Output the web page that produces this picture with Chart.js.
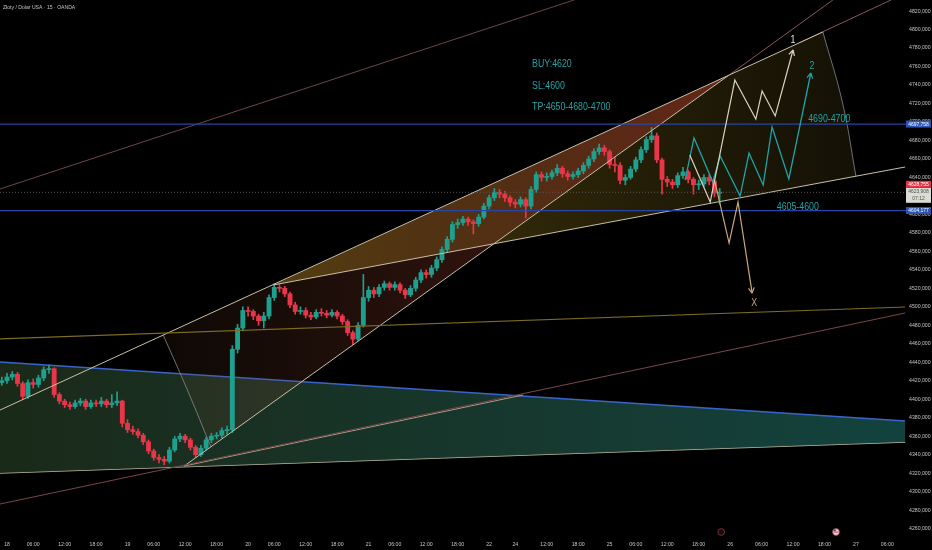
<!DOCTYPE html>
<html>
<head>
<meta charset="utf-8">
<script src="https://cdn.jsdelivr.net/npm/chart.js@4.4.1/dist/chart.umd.min.js"></script>
<style>
  html, body { margin: 0; padding: 0; background: #000; }
  #wrap { width: 932px; height: 550px; position: relative; }
</style>
</head>
<body>
<div id="wrap"><canvas id="chart"></canvas></div>
<script>
const FONT = '"Liberation Sans", Arial, sans-serif';

// hourly candles, x = trading hour counted from the "18" label (first candle at -1)
const firstHour = -1;
const firstOpen = 4418;
const closes = [
  4420,4424,4427,4417,4403,4418,4416,4423,4432,4433,
  4405,4398,4394,4392,4396,4398,4392,4396,4395,4398,
  4394,4396,4398,4374,4367,4365,4361,4354,4344,4337,
  4335,4333,4345,4357,4360,4356,4348,4340,4347,4356,
  4360,4361,4366,4367,4454,4477,4496,4495,4490,4485,
  4490,4510,4521,4520,4514,4502,4495,4496,4491,4489,
  4494,4493,4491,4494,4490,4484,4472,4465,4480,4510,
  4518,4514,4521,4525,4521,4524,4518,4513,4520,4529,
  4537,4535,4542,4551,4562,4573,4589,4591,4595,4592,
  4590,4597,4609,4618,4624,4622,4618,4613,4611,4616,
  4609,4627,4643,4640,4641,4645,4650,4644,4641,4643,
  4647,4653,4660,4668,4672,4668,4654,4653,4637,4640,
  4649,4659,4670,4681,4685,4659,4638,4635,4632,4642,
  4646,4638,4632,4633,4640,4636,4623,4624
];
const highs = [
  4424,4428,4430,4429,4419,4421,4422,4426,4435,4437,
  4434,4407,4400,4397,4399,4401,4400,4399,4399,4402,
  4400,4405,4408,4399,4378,4371,4368,4363,4356,4346,
  4340,4338,4348,4360,4363,4362,4358,4350,4350,4359,
  4363,4364,4369,4371,4458,4481,4500,4500,4497,4492,
  4494,4513,4525,4524,4522,4516,4505,4500,4499,4494,
  4497,4498,4496,4497,4496,4492,4486,4474,4483,4535,
  4522,4521,4524,4528,4527,4527,4526,4520,4523,4532,
  4540,4540,4545,4554,4565,4576,4592,4595,4598,4597,
  4594,4600,4612,4621,4628,4627,4625,4620,4616,4619,
  4618,4630,4646,4646,4645,4648,4654,4652,4647,4646,
  4650,4656,4663,4671,4676,4675,4670,4662,4656,4643,
  4652,4662,4673,4684,4694,4688,4661,4641,4638,4645,
  4651,4648,4640,4637,4643,4643,4638,4628
];
const lows = [
  4415,4417,4421,4414,4400,4401,4412,4413,4420,4428,
  4402,4395,4391,4389,4390,4393,4389,4390,4392,4392,
  4391,4391,4393,4370,4364,4362,4358,4351,4341,4334,
  4331,4329,4331,4343,4354,4353,4345,4337,4338,4345,
  4353,4357,4358,4362,4364,4450,4474,4490,4486,4480,
  4477,4487,4507,4516,4511,4499,4492,4492,4488,4486,
  4487,4490,4488,4489,4487,4481,4469,4459,4463,4478,
  4506,4510,4511,4518,4518,4518,4515,4509,4511,4517,
  4526,4531,4532,4539,4548,4559,4570,4585,4588,4588,
  4579,4587,4595,4606,4615,4618,4614,4609,4607,4608,
  4596,4606,4624,4636,4636,4638,4642,4640,4637,4638,
  4640,4644,4650,4657,4665,4664,4650,4646,4633,4632,
  4638,4646,4656,4667,4678,4656,4622,4630,4628,4629,
  4639,4634,4622,4627,4630,4632,4619,4611
];

const timeTicks = [0,5,11,17,23,28,34,40,46,51,57,63,69,74,80,86,92,97,103,109,115,120,126,132,138,144,150,156,162,168];
const timeLabels = ['18','06:00','12:00','18:00','19','06:00','12:00','18:00','20','06:00','12:00','18:00',
  '21','06:00','12:00','18:00','22','24','12:00','18:00','25','06:00','12:00','18:00','26','06:00','12:00','18:00','27','06:00'];
const priceTicks = [4260,4280,4300,4320,4340,4360,4380,4400,4420,4440,4460,4480,4500,4520,4540,
  4560,4580,4600,4620,4640,4660,4680,4700,4720,4740,4760,4780,4800,4820];

const lastPrice = 4623.908;
const markPrice = 4628.755;
const upperLevel = 4697.758;
const lowerLevel = 4604.177;

// drawings, points as [hour, price]
const lineRoseTop = [[-1.34, 4627.5], [108.2, 4832]];
const lineRoseLow = [[-1.34, 4286.6], [171.4, 4493.3]];
const lineOlive = [[-1.34, 4465.2], [171.4, 4499.8]];
const triTop = [[-1.34, 4440.3], [171.4, 4376.4]];
const triBottom = [[-1.34, 4320.2], [171.4, 4353.7]];
const lineU = [[-1.34, 4388.3], [155.7, 4797.4]];
const lineSteep = [[33.8, 4327.7], [137.8, 4750.8]];
const lineSteepTop = [[137.8, 4750.8], [157.6, 4832]];
const lineM = [[50.8, 4523.6], [171.4, 4651.3]];
const lineRoseShort = [[151.1, 4785.5], [168.7, 4832]];
const lineLowBeige = [[33.8, 4327.7], [98.5, 4404.6]];
const arcRight = [[155.7, 4797.4], [159.5, 4719.5], [162.0, 4641.6]];
const arcLeft = [[29.8, 4469.5], [34.5, 4408.9], [38.9, 4348.5]];
const wedgeGold = [[50.8, 4523.6], [155.7, 4797.4], [159.5, 4719.5], [162.0, 4641.6], [50.8, 4523.6]];
const wedgeRed = [[29.8, 4469.5], [137.8, 4750.8], [38.9, 4348.5], [34.5, 4408.9], [29.8, 4469.5]];
const path1 = [[130.3, 4664.3], [134.2, 4613.4], [138.9, 4745.4], [142.9, 4703.2], [144.1, 4733.5], [146.6, 4706.5], [150.0, 4777.9]];
const path2 = [[129.4, 4637.2], [131.1, 4682.7], [134.7, 4635.1], [136.1, 4663.2], [139.9, 4619.9], [141.6, 4666.4],
  [144.3, 4631.8], [146.0, 4694.6], [149.2, 4638.3], [153.4, 4753.0]];
const pathX = [[135.1, 4635.1], [137.8, 4569.0], [139.5, 4613.4], [142.2, 4514.9]];

const notes = [
  { text: 'BUY:4620', x: 100.2, y: 4762.7, color: '#21a3a6', align: 'left' },
  { text: 'SL:4600', x: 100.2, y: 4738.9, color: '#21a3a6', align: 'left' },
  { text: 'TP:4650-4680-4700', x: 100.2, y: 4716.2, color: '#21a3a6', align: 'left' },
  { text: '4690-4700', x: 152.9, y: 4702.9, color: '#21a3a6', align: 'left' },
  { text: '4605-4600', x: 146.9, y: 4608.3, color: '#21a3a6', align: 'left' },
  { text: '1', x: 150.0, y: 4788.7, color: '#e8e4da', align: 'center' },
  { text: '2', x: 153.6, y: 4760.6, color: '#21a3a6', align: 'center' },
  { text: 'X', x: 142.6, y: 4504.4, color: '#c9a979', align: 'center' }
];
const eventHours = [136.3, 158.2];

const xMin = -1.34, xMax = 171.56, yMin = 4252, yMax = 4832;

const opens = closes.map((c, i) => i === 0 ? firstOpen : closes[i - 1]);
const hours = closes.map((c, i) => firstHour + i);
const upColor = '#1fa08f', downColor = '#e8364a';
const candleColors = closes.map((c, i) => c >= opens[i] ? upColor : downColor);

function pts(arr) { return arr.map(p => ({ x: p[0], y: p[1] })); }

function line(arr, color, width, extra) {
  return Object.assign({
    type: 'line', data: pts(arr), borderColor: color, borderWidth: width,
    pointRadius: 0, tension: 0, fill: false, order: 5
  }, extra || {});
}

function hGradient(x0, x1, c0, c1) {
  return function (ctx) {
    const chart = ctx.chart;
    if (!chart.chartArea) return c0;
    const xs = chart.scales.x;
    const g = chart.ctx.createLinearGradient(xs.getPixelForValue(x0), 0, xs.getPixelForValue(x1), 0);
    g.addColorStop(0, c0);
    g.addColorStop(1, c1);
    return g;
  };
}

// narrow text like the TradingView screenshot
function narrowText(ctx, text, x, y, align, sx) {
  ctx.save();
  ctx.translate(x, y);
  ctx.scale(sx, 1);
  ctx.textAlign = align;
  ctx.fillText(text, 0, 0);
  ctx.restore();
}

const decor = {
  id: 'decor',
  afterDatasetsDraw(chart) {
    const ctx = chart.ctx, xs = chart.scales.x, ys = chart.scales.y, area = chart.chartArea;
    ctx.save();

    // arrow heads at the end of the forecast paths
    chart.data.datasets.forEach((ds, i) => {
      if (!ds.arrowHead) return;
      const d = chart.getDatasetMeta(i).data;
      const a = d[d.length - 2], b = d[d.length - 1];
      const ang = Math.atan2(b.y - a.y, b.x - a.x);
      ctx.strokeStyle = ds.borderColor;
      ctx.lineWidth = 1.2;
      ctx.beginPath();
      [-0.5, 0.5].forEach(s => {
        ctx.moveTo(b.x, b.y);
        ctx.lineTo(b.x - 6 * Math.cos(ang + s), b.y - 6 * Math.sin(ang + s));
      });
      ctx.stroke();
    });

    // text notes
    ctx.textBaseline = 'middle';
    ctx.font = '11px ' + FONT;
    notes.forEach(n => {
      ctx.fillStyle = n.color;
      narrowText(ctx, n.text, xs.getPixelForValue(n.x), ys.getPixelForValue(n.y), n.align, 0.8);
    });

    // title
    ctx.font = '6px ' + FONT;
    ctx.fillStyle = '#c4c4c4';
    narrowText(ctx, 'Złoty / Dolar USA · 15 · OANDA', area.left + 3, area.top + 7, 'left', 0.85);

    // event icons on the time line
    eventHours.forEach((h, k) => {
      const x = xs.getPixelForValue(h), y = area.bottom - 4;
      ctx.beginPath();
      ctx.arc(x, y, 3.4, 0, Math.PI * 2);
      ctx.fillStyle = k === 0 ? '#1a0c0c' : '#d8d8e0';
      ctx.fill();
      ctx.strokeStyle = k === 0 ? '#8a3232' : '#c03040';
      ctx.lineWidth = 0.8;
      ctx.stroke();
      if (k === 1) {
        ctx.fillStyle = '#c03040';
        ctx.fillRect(x - 2.4, y - 0.4, 4.8, 0.9);
        ctx.fillStyle = '#3050a0';
        ctx.fillRect(x - 2.4, y - 2.6, 2.2, 1.8);
      }
    });

    // price labels on the right scale
    const boxX = area.right, boxW = 25;
    function box(cy, h, bg, fg, lines) {
      ctx.fillStyle = bg;
      ctx.fillRect(boxX, cy - h / 2, boxW, h);
      ctx.fillStyle = fg;
      ctx.font = '5.5px ' + FONT;
      lines.forEach((t, i) => narrowText(ctx, t, boxX + boxW / 2, cy - h / 2 + 3.6 + i * 7, 'center', 0.9));
    }
    const fmt = v => v.toFixed(3).replace('.', ',');
    box(ys.getPixelForValue(upperLevel), 7, '#2b56b8', '#ffffff', [fmt(upperLevel)]);
    const lp = ys.getPixelForValue(lastPrice);
    box(lp + 3, 15, '#dcdcd4', '#505050', [fmt(lastPrice), '07:12']);
    box(lp - 8, 7, '#e23444', '#ffffff', [fmt(markPrice)]);
    box(ys.getPixelForValue(lowerLevel), 7, '#2b56b8', '#ffffff', [fmt(lowerLevel)]);

    ctx.restore();
  }
};

const datasets = [
  // filled areas
  line(triTop, '#3a64cc', 1.5, { fill: '+1', order: 30,
    backgroundColor: hGradient(xMin, xMax, 'rgba(28,44,26,0.95)', 'rgba(20,70,66,0.95)') }),
  line(triBottom, '#bcb39a', 1.5, { order: 30 }),
  line(wedgeGold, 'rgba(0,0,0,0)', 0, { fill: 'shape', order: 29,
    backgroundColor: hGradient(50.8, 162, 'rgba(205,170,30,0.36)', 'rgba(120,100,30,0.17)') }),
  line(wedgeRed, 'rgba(0,0,0,0)', 0, { fill: 'shape', order: 28,
    backgroundColor: hGradient(29.8, 137.8, 'rgba(110,65,40,0.13)', 'rgba(185,55,45,0.45)') }),

  // candles
  { type: 'bar', data: hours.map((h, i) => ({ x: h, y: [lows[i], highs[i]] })),
    backgroundColor: candleColors, barThickness: 1, grouped: false, order: 10 },
  { type: 'bar', data: hours.map((h, i) => ({ x: h, y: [opens[i], closes[i]] })),
    backgroundColor: candleColors, barThickness: 4.2, minBarLength: 1, grouped: false, order: 10 },

  // trend lines
  line(lineRoseTop, '#6e4646', 1),
  line(lineRoseLow, '#7c4549', 1),
  line(lineLowBeige, '#a89c88', 1),
  line(lineOlive, '#7d6c22', 1.2),
  line(lineU, '#c9bfa8', 1),
  line(lineSteep, '#c9bfa8', 1),
  line(lineSteepTop, '#8a5656', 1),
  line(lineM, '#c9bfa8', 1),
  line(lineRoseShort, '#8a5656', 1),
  line(arcRight, '#8c8c8c', 0.8, { tension: 0.4 }),
  line(arcLeft, '#8c8c8c', 0.8, { tension: 0.4 }),

  // levels
  line([[xMin, upperLevel], [xMax, upperLevel]], '#2746a6', 1.2, { order: 4 }),
  line([[xMin, lowerLevel], [xMax, lowerLevel]], '#2746a6', 1.2, { order: 4 }),
  line([[xMin, lastPrice], [xMax, lastPrice]], '#555555', 1, { borderDash: [1, 2], order: 4 }),

  // forecast paths
  line(path1, '#d9d1c1', 1.2, { order: 1, arrowHead: true }),
  line(path2, '#1fa4a8', 1.3, { order: 1, arrowHead: true }),
  line(pathX, '#c9a979', 1.2, { order: 1, arrowHead: true })
];

new Chart(document.getElementById('chart'), {
  type: 'bar',
  data: { datasets: datasets },
  plugins: [decor],
  options: {
    responsive: true,
    maintainAspectRatio: false,
    animation: false,
    layout: { padding: 0 },
    plugins: { legend: { display: false }, tooltip: { enabled: false } },
    scales: {
      x: {
        type: 'linear', min: xMin, max: xMax, offset: false,
        grid: { display: false, drawTicks: false }, border: { display: false },
        afterFit: s => { s.height = 14; s.paddingLeft = 0; s.paddingRight = 0; },
        afterBuildTicks: s => { s.ticks = timeTicks.map(v => ({ value: v })); },
        ticks: {
          autoSkip: false, maxRotation: 0, padding: 5, color: '#c4c4c4',
          font: { family: FONT, size: 5.2 },
          callback: (v, i) => timeLabels[i]
        }
      },
      y: {
        position: 'right', min: yMin, max: yMax,
        grid: { display: false, drawTicks: false }, border: { display: false },
        afterFit: s => { s.width = 26; s.paddingTop = 0; s.paddingBottom = 0; },
        afterBuildTicks: s => { s.ticks = priceTicks.map(v => ({ value: v })); },
        ticks: {
          padding: 3, color: '#c4c4c4',
          font: { family: FONT, size: 5.2 },
          callback: v => v.toFixed(3).replace('.', ',')
        }
      }
    }
  }
});
</script>
</body>
</html>
